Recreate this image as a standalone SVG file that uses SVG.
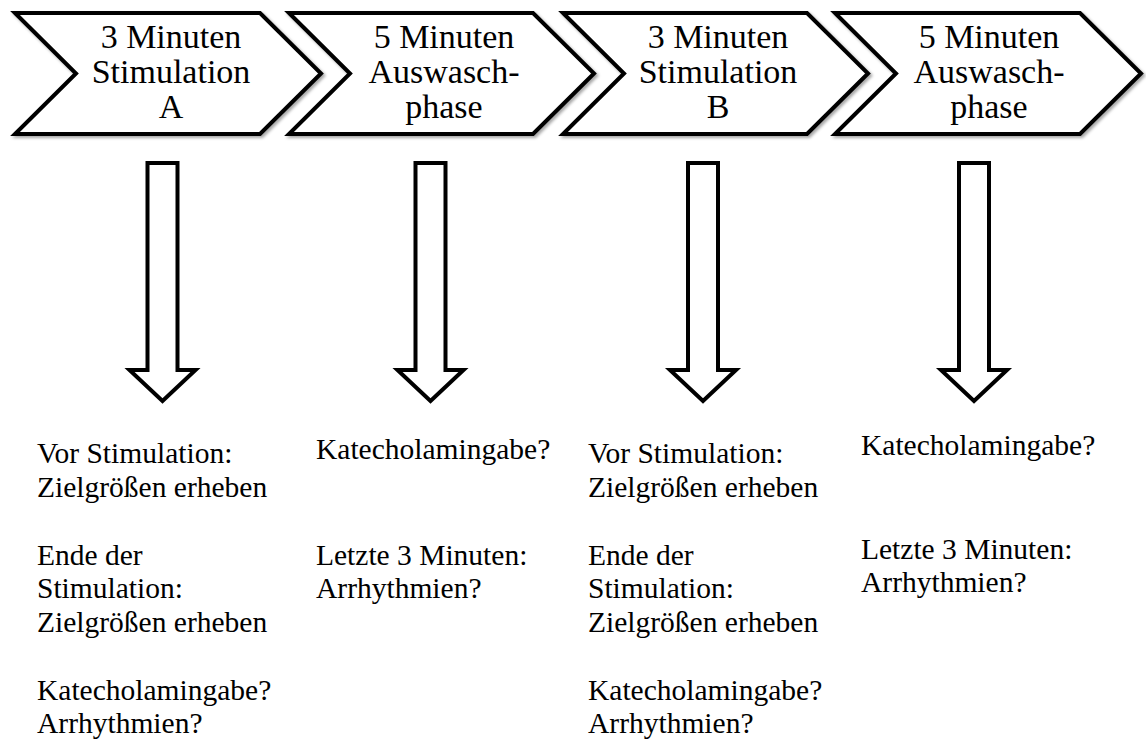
<svg xmlns="http://www.w3.org/2000/svg" width="1146" height="745" viewBox="0 0 1146 745">
<defs>
<filter id="sh" x="-5%" y="-10%" width="115%" height="130%">
<feDropShadow dx="2" dy="2" stdDeviation="1.5" flood-color="#000" flood-opacity="0.35"/>
</filter>
<style>
.chev{fill:#fff;stroke:#000;stroke-width:4;stroke-linejoin:miter;filter:url(#sh)}
.arr{fill:#fff;stroke:#000;stroke-width:4;stroke-linejoin:miter}
.ct{font-family:"Liberation Serif","Times New Roman",serif;font-size:34px;fill:#000;text-anchor:middle}
.bt{font-family:"Liberation Serif","Times New Roman",serif;font-size:29.5px;fill:#000}
</style>
</defs>
<rect width="1146" height="745" fill="#fff"/>
<g id="phase1">
<path class="chev" d="M15,13 L260,13 L321,73.5 L260,134 L15,134 L76,73.5 Z"/>
<text class="ct" x="171" y="48">3 Minuten</text>
<text class="ct" x="171" y="83">Stimulation</text>
<text class="ct" x="171" y="118">A</text>
</g>
<g id="phase2">
<path class="chev" d="M289,13 L533,13 L594,73.5 L533,134 L289,134 L350,73.5 Z"/>
<text class="ct" x="444" y="48">5 Minuten</text>
<text class="ct" x="444" y="83">Auswasch-</text>
<text class="ct" x="444" y="118">phase</text>
</g>
<g id="phase3">
<path class="chev" d="M563,13 L807,13 L868,73.5 L807,134 L563,134 L624,73.5 Z"/>
<text class="ct" x="718" y="48">3 Minuten</text>
<text class="ct" x="718" y="83">Stimulation</text>
<text class="ct" x="718" y="118">B</text>
</g>
<g id="phase4">
<path class="chev" d="M835,13 L1080,13 L1141,73.5 L1080,134 L835,134 L896,73.5 Z"/>
<text class="ct" x="989" y="48">5 Minuten</text>
<text class="ct" x="989" y="83">Auswasch-</text>
<text class="ct" x="989" y="118">phase</text>
</g>
<g id="connectors">
<path class="arr" d="M147.5,163 L177.5,163 L177.5,370 L195.5,370 L162.5,401 L129.5,370 L147.5,370 Z"/>
<path class="arr" d="M415.5,163 L445.5,163 L445.5,370 L463.5,370 L430.5,401 L397.5,370 L415.5,370 Z"/>
<path class="arr" d="M688,163 L718,163 L718,370 L736,370 L703,401 L670,370 L688,370 Z"/>
<path class="arr" d="M959,163 L989,163 L989,370 L1007,370 L974,401 L941,370 L959,370 Z"/>
</g>
<g id="notes1">
<text class="bt" x="37" y="463">Vor Stimulation:</text>
<text class="bt" x="37" y="497">Zielgrößen erheben</text>
<text class="bt" x="37" y="565">Ende der</text>
<text class="bt" x="37" y="598">Stimulation:</text>
<text class="bt" x="37" y="632">Zielgrößen erheben</text>
<text class="bt" x="37" y="700">Katecholamingabe?</text>
<text class="bt" x="37" y="733">Arrhythmien?</text>
</g>
<g id="notes2">
<text class="bt" x="316" y="459">Katecholamingabe?</text>
<text class="bt" x="316" y="565">Letzte 3 Minuten:</text>
<text class="bt" x="316" y="598">Arrhythmien?</text>
</g>
<g id="notes3">
<text class="bt" x="588" y="463">Vor Stimulation:</text>
<text class="bt" x="588" y="497">Zielgrößen erheben</text>
<text class="bt" x="588" y="565">Ende der</text>
<text class="bt" x="588" y="598">Stimulation:</text>
<text class="bt" x="588" y="632">Zielgrößen erheben</text>
<text class="bt" x="588" y="700">Katecholamingabe?</text>
<text class="bt" x="588" y="733">Arrhythmien?</text>
</g>
<g id="notes4">
<text class="bt" x="861" y="455">Katecholamingabe?</text>
<text class="bt" x="861" y="559">Letzte 3 Minuten:</text>
<text class="bt" x="861" y="592">Arrhythmien?</text>
</g>
</svg>
